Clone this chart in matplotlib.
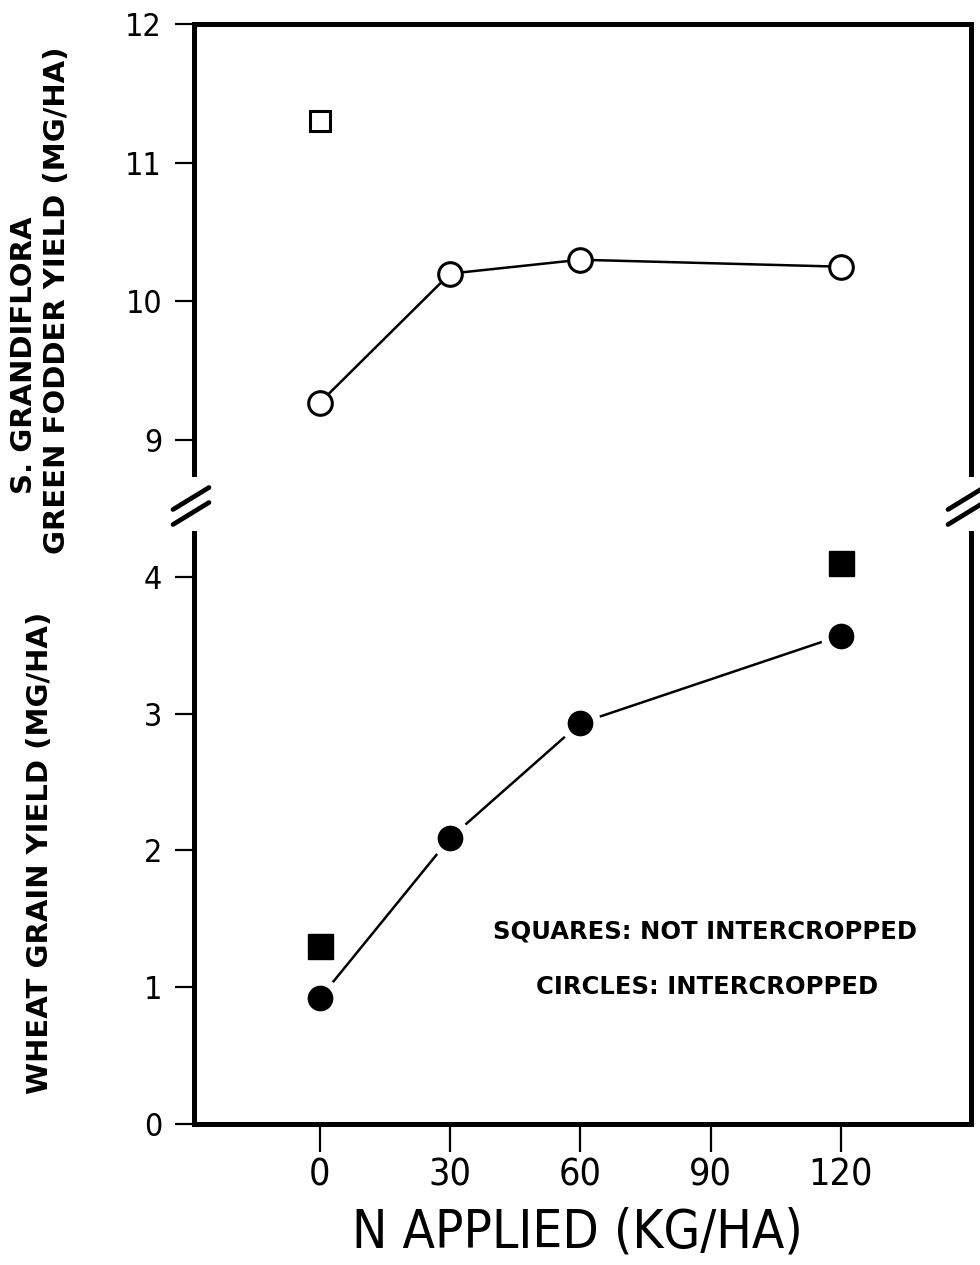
import matplotlib
matplotlib.use("Agg")
import matplotlib.pyplot as plt
from matplotlib.lines import Line2D

# data
n_applied = [0, 30, 60, 120]
fodder_inter = [9.27, 10.2, 10.3, 10.25]
fodder_sole_x = [0]
fodder_sole = [11.3]
wheat_inter = [0.92, 2.09, 2.93, 3.57]
wheat_sole_x = [0, 120]
wheat_sole = [1.30, 4.10]
xticks = [0, 30, 60, 90, 120]
top_yticks = [9, 10, 11, 12]
bot_yticks = [0, 1, 2, 3, 4]

W, H = 980, 1265
fig = plt.figure(figsize=(W / 100, H / 100), dpi=100)

L, R = 194 / W, 971 / W
ax1 = fig.add_axes([L, 1 - 474 / H, R - L, (474 - 24) / H])
ax2 = fig.add_axes([L, 1 - 1124 / H, R - L, (1124 - 533) / H])

lw_sp = 3.6
for ax in (ax1, ax2):
    ax.set_xlim(-29, 150)
    for s in ax.spines.values():
        s.set_linewidth(lw_sp)
    ax.tick_params(direction="out", width=1.6, length=14, labelsize=23, pad=9)

ax1.set_ylim(8.755, 12)
ax1.spines["bottom"].set_visible(False)
ax1.set_xticks([])
ax1.set_yticks(top_yticks)

ax2.set_ylim(0, 4.32)
ax2.spines["top"].set_visible(False)
ax2.set_yticks(bot_yticks)
ax2.set_xticks(xticks)
ax2.tick_params(axis="x", length=20, pad=4, labelsize=27)

for ax in (ax1, ax2):
    for lab in ax.get_yticklabels() + ax.get_xticklabels():
        lab.set_fontstretch("condensed")

# top panel
ax1.plot(n_applied, fodder_inter, color="black", lw=1.8, marker="o", ms=17,
         mfc="white", mec="black", mew=2.2, clip_on=False)
ax1.plot(fodder_sole_x, fodder_sole, ls="none", marker="s", ms=15,
         mfc="white", mec="black", mew=2.2)

# bottom panel
ax2.plot(n_applied, wheat_inter, color="black", lw=1.8, zorder=2)
ax2.plot(n_applied, wheat_inter, ls="none", marker="o", ms=24,
         mfc="black", mec="white", mew=5.5, zorder=3)
ax2.plot(wheat_sole_x, wheat_sole, ls="none", marker="s", ms=18,
         mfc="black", mec="black", mew=1, zorder=3)

fig.text(705 / W, 1 - 932 / H, "SQUARES: NOT INTERCROPPED", fontsize=17.5,
         fontweight="bold", ha="center", va="center")
fig.text(707 / W, 1 - 987 / H, "CIRCLES: INTERCROPPED", fontsize=17.5,
         fontweight="bold", ha="center", va="center")

# labels
fig.text(24 / W, 1 - 355 / H, "S. GRANDIFLORA", rotation=90, fontsize=21,
         fontweight="bold", ha="center", va="center")
fig.text(57 / W, 1 - 300 / H, "GREEN FODDER YIELD (MG/HA)", rotation=90,
         fontsize=21, fontweight="bold", ha="center", va="center")
fig.text(40 / W, 1 - 853 / H, "WHEAT GRAIN YIELD (MG/HA)", rotation=90,
         fontsize=21, fontweight="bold", ha="center", va="center")
fig.text(577 / W, 1 - 1232 / H, "N APPLIED (KG/HA)", fontsize=38,
         ha="center", va="center", fontstretch="condensed")

# break marks
def brk(xc, yc):
    for dy in (-7.5, 7.5):
        x0, y0 = xc - 18, yc + dy + 11
        x1, y1 = xc + 18, yc + dy - 11
        fig.add_artist(Line2D([x0 / W, x1 / W], [1 - y0 / H, 1 - y1 / H],
                              color="black", lw=3.4, solid_capstyle="round"))

brk(191, 506)
brk(966, 506)

fig.savefig("out.png", dpi=100)
